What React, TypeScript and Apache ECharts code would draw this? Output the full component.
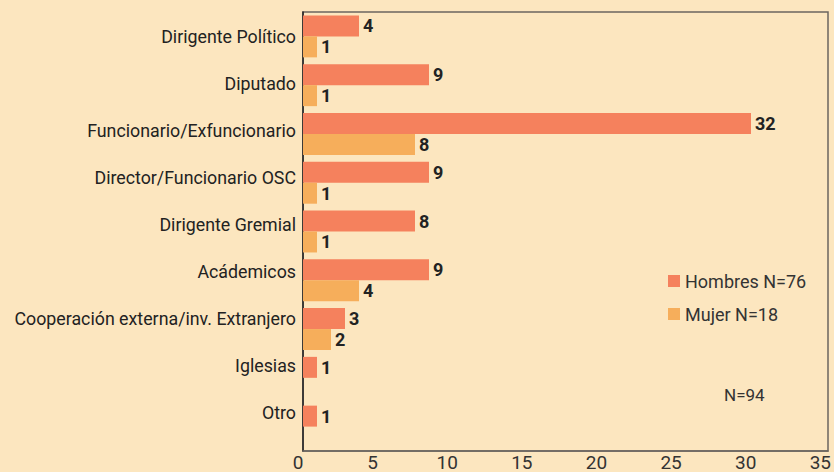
import React, { useEffect, useRef } from "react";
import * as echarts from "echarts";

const categories = [
  "Dirigente Político",
  "Diputado",
  "Funcionario/Exfuncionario",
  "Director/Funcionario OSC",
  "Dirigente Gremial",
  "Acádemicos",
  "Cooperación externa/inv. Extranjero",
  "Iglesias",
  "Otro",
];
const hombres = [4, 9, 32, 9, 8, 9, 3, 1, 1];
const mujer: (number | null)[] = [1, 1, 8, 1, 1, 4, 2, null, null];
const seriesNames = ["Hombres N=76", "Mujer N=18"];
const tickMin = 0;
const tickMax = 35;
const tickStep = 5;
const totalNote = "N=94";

const FONT = "Roboto, 'Noto Sans', sans-serif";

export default function App() {
  const ref = useRef<HTMLDivElement>(null);
  useEffect(() => {
    if (!ref.current) return;
    const chart = echarts.init(ref.current, undefined, { renderer: "svg" });
    const valueLabel = {
      show: true,
      position: "right" as const,
      distance: 4,
      color: "#222",
      fontSize: 18,
      fontWeight: "bold" as const,
      fontFamily: FONT,
    };
    chart.setOption({
      animation: false,
      backgroundColor: "#FCE6BF",
      textStyle: { fontFamily: FONT },
      grid: [
        {
          left: 303,
          right: 6,
          top: 12,
          bottom: 21,
          show: true,
          borderColor: "#6b6660",
          borderWidth: 1.5,
          backgroundColor: "transparent",
          containLabel: false,
        },
        { left: 298, right: 11, top: 12, bottom: 21, show: false, containLabel: false },
        { left: 303, right: 6, top: 12.5, bottom: 35.5, show: false, containLabel: false },
      ],
      legend: {
        orient: "vertical",
        left: 668,
        top: 272,
        padding: 0,
        itemWidth: 12,
        itemHeight: 12,
        itemGap: 15,
        icon: "rect",
        textStyle: { fontSize: 18, color: "#333", fontFamily: FONT },
        data: seriesNames,
      },
      xAxis: [
        {
          type: "value",
          gridIndex: 0,
          min: 0,
          max: 37.5,
          axisLine: { show: true, lineStyle: { color: "#6b6660", width: 1.5 } },
          axisTick: { show: false },
          axisLabel: { show: false },
          splitLine: { show: false },
        },
        {
          type: "value",
          gridIndex: 1,
          min: tickMin,
          max: tickMax,
          interval: tickStep,
          axisLine: { show: false },
          axisTick: { show: false },
          splitLine: { show: false },
          axisLabel: { fontSize: 19, color: "#333", margin: 8, fontFamily: FONT },
        },
        { type: "value", gridIndex: 2, show: false },
      ],
      yAxis: [
        {
          type: "category",
          gridIndex: 0,
          inverse: true,
          data: categories,
          axisLine: { show: true, lineStyle: { color: "#222", width: 1.5 } },
          axisTick: { show: false },
          axisLabel: { show: false },
        },
        { type: "category", gridIndex: 1, data: categories, show: false },
        {
          type: "category",
          gridIndex: 2,
          inverse: true,
          data: categories,
          axisLine: { show: false },
          axisTick: { show: false },
          axisLabel: { fontSize: 17.8, color: "#222", margin: 7, fontFamily: FONT },
        },
      ],
      series: [
        {
          name: seriesNames[0],
          type: "bar",
          xAxisIndex: 0,
          yAxisIndex: 0,
          data: hombres,
          barGap: "0%",
          barCategoryGap: "14%",
          itemStyle: { color: "#F5815D" },
          label: valueLabel,
        },
        {
          name: seriesNames[1],
          type: "bar",
          xAxisIndex: 0,
          yAxisIndex: 0,
          data: mujer,
          barGap: "0%",
          barCategoryGap: "14%",
          itemStyle: { color: "#F6AE5B" },
          label: valueLabel,
        },
      ],
      graphic: [
        {
          type: "text",
          left: 724,
          top: 386,
          style: { text: totalNote, fontSize: 17, fill: "#333", fontFamily: FONT },
        },
      ],
    });
    return () => chart.dispose();
  }, []);
  return (
    <div
      ref={ref}
      style={{ position: "fixed", left: 0, top: 0, width: 834, height: 472 }}
    />
  );
}
